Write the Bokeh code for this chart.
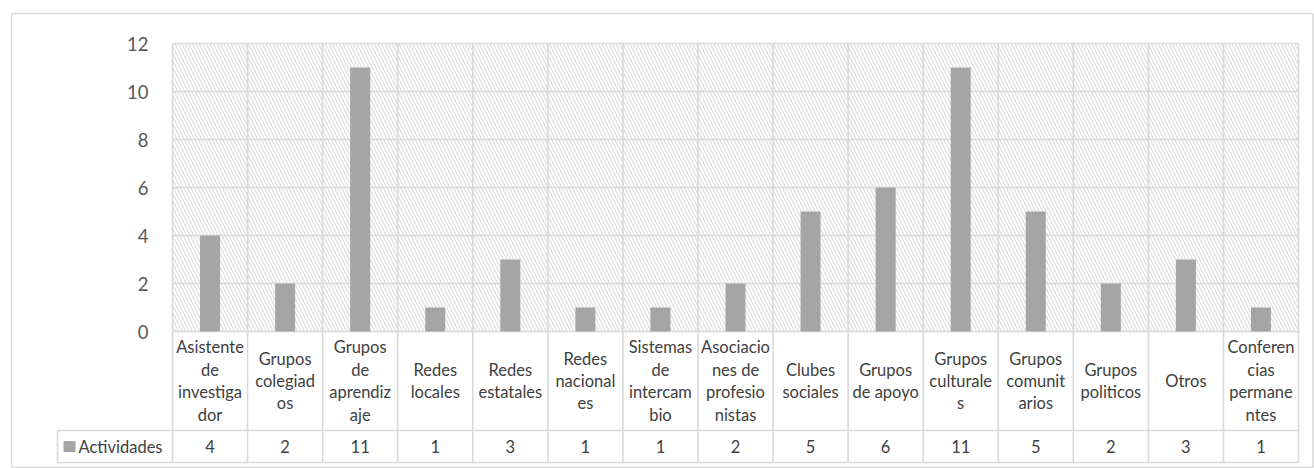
from bokeh.plotting import figure
from bokeh.models import ColumnDataSource, Range1d
from bokeh.core.properties import value
from bokeh.embed import file_html
from bokeh.resources import INLINE

# ---------------- data ----------------
categories = [
    "Asistente de investigador", "Grupos colegiados", "Grupos de aprendizaje",
    "Redes locales", "Redes estatales", "Redes nacionales", "Sistemas de intercambio",
    "Asociaciones de profesionistas", "Clubes sociales", "Grupos de apoyo",
    "Grupos culturales", "Grupos comunitarios", "Grupos politicos", "Otros",
    "Conferencias permanentes",
]
category_labels = [
    "Asistente\nde\ninvestiga\ndor", "Grupos\ncolegiad\nos", "Grupos\nde\naprendiz\naje",
    "Redes\nlocales", "Redes\nestatales", "Redes\nnacional\nes", "Sistemas\nde\nintercam\nbio",
    "Asociacio\nnes de\nprofesio\nnistas", "Clubes\nsociales", "Grupos\nde apoyo",
    "Grupos\nculturale\ns", "Grupos\ncomunit\narios", "Grupos\npoliticos", "Otros",
    "Conferen\ncias\npermane\nntes",
]
actividades = [4, 2, 11, 1, 3, 1, 1, 2, 5, 6, 11, 5, 2, 3, 1]
series_name = "Actividades"
y_ticks = [0, 2, 4, 6, 8, 10, 12]
y_max = 12

# ---------------- layout (pixels) ----------------
W, H = 1314, 468
plot_left, plot_right = 172, 1298
plot_top, plot_zero = 43, 331
n = len(categories)
px_x = (plot_right - plot_left) / n
px_y = (plot_zero - plot_top) / y_max

x_start = -plot_left / px_x
x_end = n + (W - plot_right) / px_x
y_end = y_max + plot_top / px_y
y_start = -(H - plot_zero) / px_y

def xp(px):
    return (px - plot_left) / px_x

def yp(py):
    return (plot_zero - py) / px_y

row1_bottom = yp(430)
row2_bottom = yp(462)
legend_left = xp(57)

GRID = "#d9d9d9"
TXT = "#404040"
FONT = value("Lato")

p = figure(width=W, height=H, output_backend="svg", toolbar_location=None,
           x_range=Range1d(x_start, x_end), y_range=Range1d(y_start, y_end),
           min_border=0, min_border_left=0, min_border_right=0,
           min_border_top=0, min_border_bottom=0)
p.axis.visible = False
p.grid.visible = False
p.outline_line_color = None
p.background_fill_color = "white"
p.border_fill_color = "white"

# outer chart border
bl, br, bt, bb = xp(11), xp(1312.5), yp(13), yp(467)
p.multi_line(xs=[[bl, br], [bl, bl], [br, br], [bl, br]],
             ys=[[bt, bt], [bt, bb], [bt, bb], [bb, bb]],
             line_color=GRID, line_width=1.5)

# hatched plot area
p.quad(left=0, right=n, bottom=0, top=y_max, fill_color="white", line_color=None,
       hatch_pattern="\\", hatch_color="#e4e4e4", hatch_scale=7, hatch_weight=1.6)

# horizontal gridlines
p.multi_line(xs=[[0, n] for _ in y_ticks], ys=[[t, t] for t in y_ticks],
             line_color=GRID, line_width=1.6)

# vertical gridlines / table columns
p.multi_line(xs=[[i, i] for i in range(n + 1)],
             ys=[[y_max, row2_bottom] for _ in range(n + 1)],
             line_color=GRID, line_width=1.6)
# table horizontal lines
p.multi_line(xs=[[legend_left, n], [legend_left, n], [legend_left, legend_left]],
             ys=[[row1_bottom, row1_bottom], [row2_bottom, row2_bottom],
                 [row1_bottom, row2_bottom]],
             line_color=GRID, line_width=1.6)

# bars
xc = [i + 0.5 for i in range(n)]
src = ColumnDataSource(dict(x=xc, top=actividades, lab=category_labels,
                            val=[str(v) for v in actividades]))
p.vbar(x="x", top="top", bottom=0, width=20 / px_x, source=src,
       fill_color="#a5a5a5", line_color=None)

# category labels
p.text(x="x", y=(0 + row1_bottom) / 2, text="lab", source=src,
       text_align="center", text_baseline="middle", text_font=FONT,
       text_font_size="16.5px", text_color=TXT, text_line_height=1.12)
# value row
vy = (row1_bottom + row2_bottom) / 2
p.text(x="x", y=vy, text="val", source=src,
       text_align="center", text_baseline="middle", text_font=FONT,
       text_font_size="16.5px", text_color=TXT)

# legend key + series name
kx0 = xp(63)
p.quad(left=kx0, right=xp(75), bottom=vy - 5.5 / px_y, top=vy + 5.5 / px_y,
       fill_color="#a5a5a5", line_color=None)
p.text(x=[xp(78)], y=[vy], text=[series_name],
       text_align="left", text_baseline="middle", text_font=FONT,
       text_font_size="16.5px", text_color=TXT)

# y tick labels
p.text(x=[xp(148)] * len(y_ticks), y=y_ticks, text=[str(t) for t in y_ticks],
       text_align="right", text_baseline="middle", text_font=FONT,
       text_font_size="18.5px", text_color="#595959")

open("out.html", "w").write(file_html(p, INLINE))
